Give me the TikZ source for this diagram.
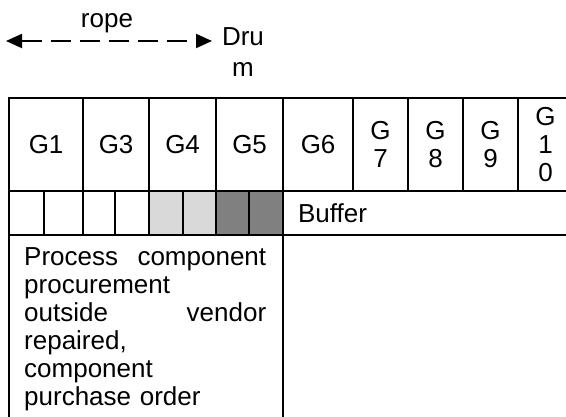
\documentclass[tikz,border=0pt]{standalone}
\usepackage{fontspec}
\setmainfont{Liberation Sans}
\usetikzlibrary{arrows.meta}
\definecolor{lightcell}{HTML}{D9D9D9}
\definecolor{darkcell}{HTML}{808080}
\begin{document}
\begin{tikzpicture}[x=1pt,y=-1pt,
  every node/.style={font=\fontsize{26}{28}\selectfont},
  cell/.style={draw, line width=2.2pt, anchor=north west, inner sep=0pt, align=center},
  toprow/.style={cell, minimum height=93pt},
  bufrow/.style={cell, minimum height=44pt},
  ropeline/.style={line width=2pt, dash pattern=on 20pt off 9pt,
    {Triangle[length=16pt,width=14pt]}-{Triangle[length=16pt,width=14pt]}},
  label/.style={inner sep=0pt}]
\useasboundingbox (0,0) rectangle (566,417);
\clip (0,0) rectangle (566,417);
% rope / drum
\coordinate (ropeL) at (6,41);
\coordinate (ropeR) at (212,41);
\draw[ropeline] (ropeL) -- (ropeR);
\node[label, anchor=base] (rope) at (107,28) {rope};
\node[label, anchor=base, text width=60pt, align=center, font=\fontsize{26}{31}\selectfont] (drum) at (243,46) {Dru\\m};
% top row
\node[toprow, minimum width=74pt] (g1) at (8,97) {G1};
\node[toprow, minimum width=66pt] (g3) at (82,97) {G3};
\node[toprow, minimum width=67pt] (g4) at (148,97) {G4};
\node[toprow, minimum width=67pt] (g5) at (215,97) {G5};
\node[toprow, minimum width=70pt] (g6) at (282,97) {G6};
\node[toprow, minimum width=55pt] (g7) at (352,97) {G\\7};
\node[toprow, minimum width=55pt] (g8) at (407,97) {G\\8};
\node[toprow, minimum width=55pt] (g9) at (462,97) {G\\9};
\node[toprow, minimum width=55pt] (g10) at (517,97) {G\\1\\0};
% buffer row
\node[bufrow, minimum width=35pt] (b1) at (8,190) {};
\node[bufrow, minimum width=39pt] (b2) at (43,190) {};
\node[bufrow, minimum width=32pt] (b3) at (82,190) {};
\node[bufrow, minimum width=34pt] (b4) at (114,190) {};
\node[bufrow, minimum width=34pt, fill=lightcell] (b5) at (148,190) {};
\node[bufrow, minimum width=33pt, fill=lightcell] (b6) at (182,190) {};
\node[bufrow, minimum width=33pt, fill=darkcell] (b7) at (215,190) {};
\node[bufrow, minimum width=34pt, fill=darkcell] (b8) at (248,190) {};
\node[bufrow, text width=288pt, inner xsep=15pt, align=left] (buf) at (282,190) {Buffer};
% process box
\node[cell, minimum width=274pt, minimum height=220pt] (proc) at (8,234) {};
\node[label, anchor=base west, text width=242pt, align=left] (proctext) at (24,266)
  {\makebox[242pt][l]{Process\hfill component}\\procurement\\\makebox[242pt][l]{outside\hfill vendor}\\repaired,\\component\\purchase order};
\end{tikzpicture}
\end{document}
